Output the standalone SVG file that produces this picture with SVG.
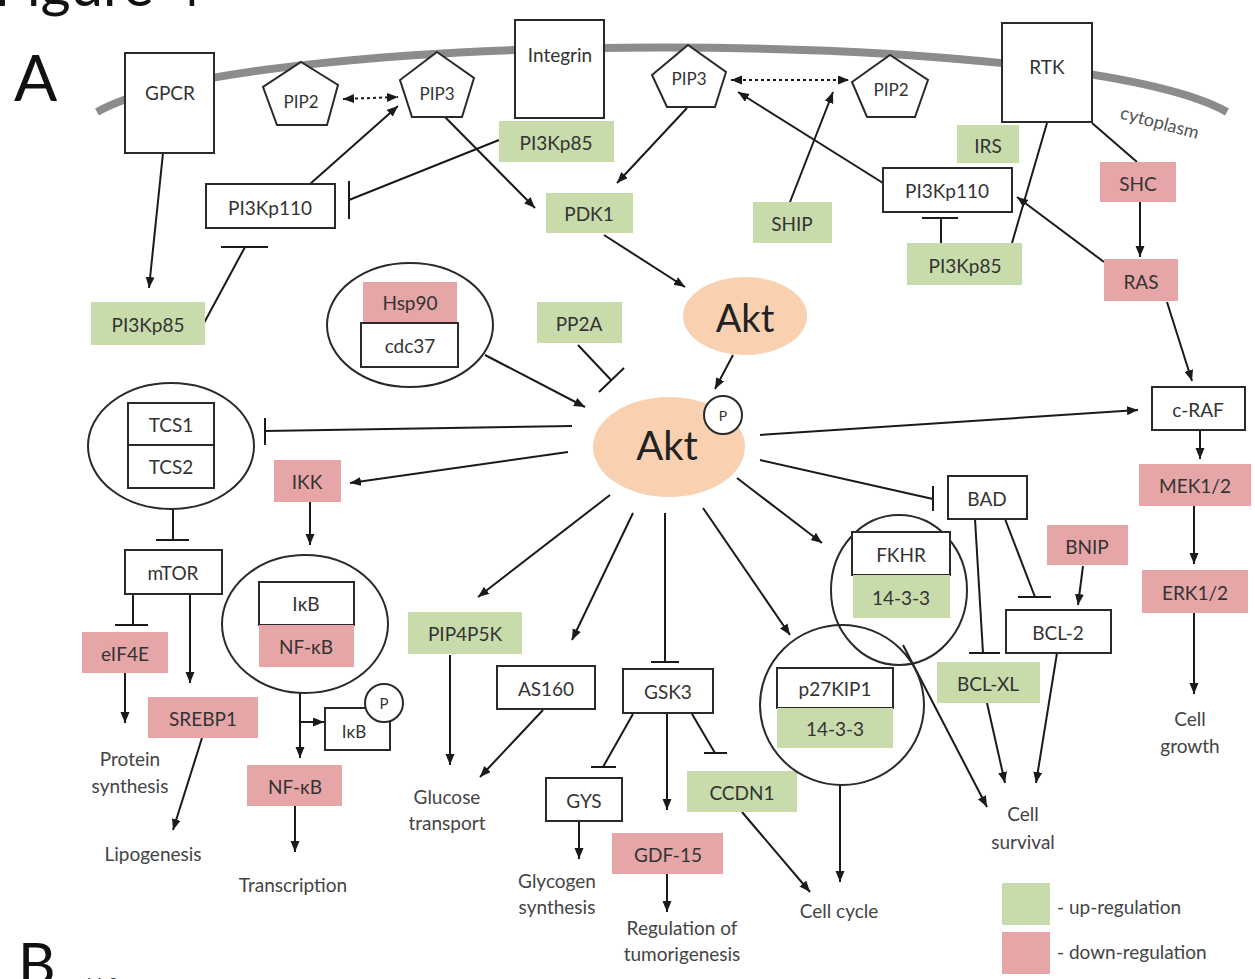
<svg xmlns="http://www.w3.org/2000/svg" width="1255" height="979" viewBox="0 0 1255 979">
<defs>
<marker id="ah" markerUnits="userSpaceOnUse" markerWidth="12" markerHeight="10" refX="11" refY="4.5" orient="auto"><path d="M0,0 L11,4.5 L0,9 z" fill="#1a1a1a"/></marker>
<marker id="ahs" markerUnits="userSpaceOnUse" markerWidth="12" markerHeight="10" refX="11" refY="4.5" orient="auto-start-reverse"><path d="M0,0 L11,4.5 L0,9 z" fill="#1a1a1a"/></marker>
<style>
text{font-family:Lato,"Liberation Sans",sans-serif;fill:#333;text-anchor:middle;dominant-baseline:central}
.lbl{font-size:19px}
.box{fill:#fff;stroke:#2a2a2a;stroke-width:2}
.cx{fill:none;stroke:#2a2a2a;stroke-width:2}
.up{fill:#c8dbab}
.dn{fill:#e6a6a8}
.akt{fill:#f9d1b0}
.c line,.c path{stroke:#1a1a1a;stroke-width:2;fill:none}
.a{marker-end:url(#ah)}
.d{stroke-dasharray:3 3;marker-end:url(#ahs);marker-start:url(#ahs)}
.out{font-size:19px;fill:#444}
</style>
</defs>
<rect width="1255" height="979" fill="#fff"/>
<text x="-6" y="-17" style="font-size:58px;fill:#111;text-anchor:start">Figure 4</text>
<text x="14" y="76" style="font-size:64px;fill:#111;text-anchor:start">A</text>
<text x="18" y="962" style="font-size:58px;fill:#111;text-anchor:start">B</text>
<text x="84" y="982" style="font-size:16px;fill:#333;text-anchor:start">14-3</text>
<g id="membrane"><path d="M97,112 C250,26 1074,26 1227,112" fill="none" stroke="#8c8c8c" stroke-width="8"/>
<text x="1160" y="122" transform="rotate(15 1160 122)" style="font-size:18px;fill:#555">cytoplasm</text></g>
<g id="connectors" class="c">
<line class="a" x1="163" y1="153" x2="149" y2="288"/>
<line x1="204" y1="323" x2="245" y2="247"/><line x1="221" y1="247" x2="268" y2="247"/>
<line class="a" x1="310" y1="184" x2="398" y2="106"/>
<line class="d" x1="343" y1="99" x2="398" y2="97"/>
<line x1="499" y1="140" x2="349" y2="200"/><line x1="349" y1="181" x2="349" y2="219"/>
<line class="a" x1="443" y1="115" x2="535" y2="208"/>
<line class="a" x1="687" y1="108" x2="617" y2="183"/>
<line class="d" x1="731" y1="80" x2="849" y2="80"/>
<line class="a" x1="790" y1="202" x2="833" y2="92"/>
<line class="a" x1="883" y1="183" x2="738" y2="92"/>
<line class="a" x1="1104" y1="262" x2="1017" y2="197"/>
<line x1="1047" y1="123" x2="1012" y2="243"/>
<line x1="1092" y1="123" x2="1137" y2="162"/>
<line class="a" x1="1140" y1="202" x2="1140" y2="257"/>
<line x1="941" y1="243" x2="941" y2="218"/><line x1="922" y1="218" x2="958" y2="218"/>
<line class="a" x1="604" y1="235" x2="685" y2="287"/>
<line class="a" x1="733" y1="355" x2="715" y2="389"/>
<line class="a" x1="485" y1="355" x2="585" y2="407"/>
<line x1="578" y1="345" x2="611" y2="380"/><line x1="599" y1="392" x2="624" y2="368"/>
<line x1="572" y1="426" x2="265" y2="431"/><line x1="265" y1="418" x2="265" y2="445"/>
<line x1="173" y1="508" x2="173" y2="540"/><line x1="156" y1="540" x2="189" y2="540"/>
<line class="a" x1="568" y1="452" x2="350" y2="483"/>
<line class="a" x1="310" y1="502" x2="310" y2="545"/>
<line x1="133" y1="594" x2="133" y2="625"/><line x1="115" y1="625" x2="148" y2="625"/>
<line class="a" x1="190" y1="594" x2="190" y2="683"/>
<line class="a" x1="125" y1="673" x2="125" y2="723"/>
<line class="a" x1="202" y1="738" x2="173" y2="830"/>
<line class="a" x1="300" y1="693" x2="300" y2="758"/>
<line class="a" x1="300" y1="722" x2="324" y2="722"/>
<line class="a" x1="295" y1="806" x2="295" y2="852"/>
<line class="a" x1="610" y1="495" x2="478" y2="597"/>
<line class="a" x1="450" y1="655" x2="450" y2="765"/>
<line class="a" x1="633" y1="513" x2="572" y2="640"/>
<line class="a" x1="543" y1="710" x2="480" y2="777"/>
<line x1="665" y1="513" x2="665" y2="662"/><line x1="651" y1="662" x2="679" y2="662"/>
<line x1="633" y1="714" x2="603" y2="767"/><line x1="591" y1="767" x2="616" y2="767"/>
<line class="a" x1="667" y1="713" x2="667" y2="810"/>
<line x1="692" y1="714" x2="715" y2="753"/><line x1="704" y1="753" x2="727" y2="753"/>
<line class="a" x1="579" y1="821" x2="579" y2="859"/>
<line class="a" x1="667" y1="874" x2="667" y2="912"/>
<line class="a" x1="742" y1="812" x2="810" y2="892"/>
<line class="a" x1="703" y1="508" x2="790" y2="635"/>
<line class="a" x1="840" y1="785" x2="840" y2="882"/>
<line class="a" x1="737" y1="478" x2="822" y2="543"/>
<line class="a" x1="903" y1="645" x2="987" y2="807"/>
<line x1="760" y1="460" x2="933" y2="499"/><line x1="933" y1="486" x2="933" y2="511"/>
<line x1="975" y1="519" x2="983" y2="653"/><line x1="969" y1="653" x2="1000" y2="653"/>
<line x1="1005" y1="519" x2="1035" y2="597"/><line x1="1018" y1="597" x2="1051" y2="597"/>
<line class="a" x1="1083" y1="566" x2="1078" y2="605"/>
<line class="a" x1="987" y1="703" x2="1005" y2="783"/>
<line class="a" x1="1057" y1="653" x2="1036" y2="783"/>
<line class="a" x1="760" y1="435" x2="1138" y2="410"/>
<line class="a" x1="1167" y1="302" x2="1192" y2="381"/>
<line class="a" x1="1200" y1="430" x2="1200" y2="459"/>
<line class="a" x1="1194" y1="506" x2="1194" y2="564"/>
<line class="a" x1="1194" y1="613" x2="1194" y2="694"/>
</g>
<g id="gpcr"><rect class="box" x="125" y="53" width="89" height="100"/><text class="lbl" x="170" y="92">GPCR</text></g>
<g id="pip2-left"><polygon class="box" points="301,62 338,85 327,125 277,125 263,87"/><text class="lbl" x="301" y="101" style="font-size:17px">PIP2</text></g>
<g id="pip3-left"><polygon class="box" points="437,52 474,78 462,117 412,117 400,80"/><text class="lbl" x="437" y="93" style="font-size:17px">PIP3</text></g>
<g id="integrin"><rect class="box" x="515" y="20" width="89" height="98"/><text class="lbl" x="560" y="54">Integrin</text></g>
<g id="pi3kp85-top"><rect class="up" x="499" y="121" width="115" height="41"/><text class="lbl" x="556" y="142">PI3Kp85</text></g>
<g id="pip3-right"><polygon class="box" points="688,45 726,72 715,107 667,107 652,75"/><text class="lbl" x="689" y="78" style="font-size:17px">PIP3</text></g>
<g id="pip2-right"><polygon class="box" points="890,55 928,80 915,117 867,117 852,82"/><text class="lbl" x="891" y="89" style="font-size:17px">PIP2</text></g>
<g id="rtk"><rect class="box" x="1002" y="23" width="90" height="99"/><text class="lbl" x="1047" y="66">RTK</text></g>
<g id="irs"><rect class="up" x="957" y="125" width="62" height="38"/><text class="lbl" x="988" y="145">IRS</text></g>
<g id="pi3kp110-right"><rect class="box" x="883" y="168" width="129" height="44"/><text class="lbl" x="947" y="190">PI3Kp110</text></g>
<g id="pi3kp85-right"><rect class="up" x="907" y="243" width="115" height="42"/><text class="lbl" x="965" y="265">PI3Kp85</text></g>
<g id="shc"><rect class="dn" x="1100" y="162" width="76" height="40"/><text class="lbl" x="1138" y="183">SHC</text></g>
<g id="ras"><rect class="dn" x="1104" y="259" width="74" height="42"/><text class="lbl" x="1141" y="281">RAS</text></g>
<g id="pi3kp110-left"><rect class="box" x="206" y="184" width="129" height="44"/><text class="lbl" x="270" y="207">PI3Kp110</text></g>
<g id="pi3kp85-left"><rect class="up" x="91" y="302" width="114" height="43"/><text class="lbl" x="148" y="324">PI3Kp85</text></g>
<g id="pdk1"><rect class="up" x="546" y="193" width="87" height="40"/><text class="lbl" x="589" y="213">PDK1</text></g>
<g id="ship"><rect class="up" x="753" y="202" width="79" height="41"/><text class="lbl" x="792" y="223">SHIP</text></g>
<g id="akt-top"><ellipse class="akt" cx="745" cy="316" rx="62" ry="39"/><text x="745" y="317" style="font-size:38px;fill:#222">Akt</text></g>
<g id="akt"><ellipse class="akt" cx="669" cy="447" rx="76" ry="50"/><text x="667" y="445" style="font-size:40px;fill:#222">Akt</text><circle class="box" cx="723" cy="415" r="19"/><text x="723" y="415" style="font-size:14px">P</text></g>
<g id="hsp90-complex"><ellipse class="cx" cx="410" cy="325" rx="83" ry="62"/><rect class="dn" x="363" y="282" width="94" height="41"/><text class="lbl" x="410" y="302">Hsp90</text><rect class="box" x="361" y="323" width="97" height="44"/><text class="lbl" x="410" y="345">cdc37</text></g>
<g id="pp2a"><rect class="up" x="537" y="302" width="85" height="41"/><text class="lbl" x="579" y="323">PP2A</text></g>
<g id="tcs-complex"><ellipse class="cx" cx="171" cy="446" rx="83" ry="63"/><rect class="box" x="128" y="403" width="86" height="42"/><text class="lbl" x="171" y="424">TCS1</text><rect class="box" x="128" y="445" width="86" height="43"/><text class="lbl" x="171" y="466">TCS2</text></g>
<g id="mtor"><rect class="box" x="125" y="550" width="97" height="44"/><text class="lbl" x="173" y="572">mTOR</text></g>
<g id="ikk"><rect class="dn" x="274" y="460" width="67" height="42"/><text class="lbl" x="307" y="481">IKK</text></g>
<g id="ikb-complex"><ellipse class="cx" cx="305" cy="624" rx="83" ry="69"/><rect class="box" x="259" y="582" width="95" height="43"/><text class="lbl" x="306" y="603">IκB</text><rect class="dn" x="259" y="625" width="95" height="42"/><text class="lbl" x="306" y="646">NF-κB</text></g>
<g id="ikb-p"><rect class="box" x="325" y="708" width="65" height="42"/><text class="lbl" x="354" y="731" style="font-size:17px">IκB</text><circle class="box" cx="384" cy="703" r="19"/><text x="384" y="703" style="font-size:15px">P</text></g>
<g id="nfkb"><rect class="dn" x="247" y="765" width="95" height="41"/><text class="lbl" x="295" y="786">NF-κB</text></g>
<g id="eif4e"><rect class="dn" x="82" y="632" width="86" height="41"/><text class="lbl" x="125" y="653">eIF4E</text></g>
<g id="srebp1"><rect class="dn" x="148" y="697" width="110" height="41"/><text class="lbl" x="203" y="718">SREBP1</text></g>
<g id="pip4p5k"><rect class="up" x="408" y="612" width="114" height="42"/><text class="lbl" x="465" y="633">PIP4P5K</text></g>
<g id="as160"><rect class="box" x="497" y="666" width="98" height="43"/><text class="lbl" x="546" y="688">AS160</text></g>
<g id="gsk3"><rect class="box" x="623" y="669" width="90" height="44"/><text class="lbl" x="668" y="691">GSK3</text></g>
<g id="gys"><rect class="box" x="546" y="778" width="76" height="43"/><text class="lbl" x="584" y="800">GYS</text></g>
<g id="gdf15"><rect class="dn" x="612" y="833" width="111" height="41"/><text class="lbl" x="668" y="854">GDF-15</text></g>
<g id="ccdn1"><rect class="up" x="687" y="771" width="110" height="41"/><text class="lbl" x="742" y="792">CCDN1</text></g>
<g id="p27-complex"><ellipse class="cx" cx="842" cy="705" rx="82" ry="80"/><rect class="box" x="777" y="668" width="116" height="40"/><text class="lbl" x="835" y="688">p27KIP1</text><rect class="up" x="777" y="708" width="116" height="40"/><text class="lbl" x="835" y="728">14-3-3</text></g>
<g id="fkhr-complex"><ellipse class="cx" cx="899" cy="590" rx="68" ry="75"/><rect class="box" x="852" y="532" width="98" height="43"/><text class="lbl" x="901" y="554">FKHR</text><rect class="up" x="853" y="575" width="97" height="43"/><text class="lbl" x="901" y="597">14-3-3</text></g>
<g id="bad"><rect class="box" x="948" y="476" width="79" height="43"/><text class="lbl" x="987" y="498">BAD</text></g>
<g id="bnip"><rect class="dn" x="1047" y="525" width="81" height="40"/><text class="lbl" x="1087" y="546">BNIP</text></g>
<g id="bcl2"><rect class="box" x="1006" y="610" width="105" height="43"/><text class="lbl" x="1058" y="632">BCL-2</text></g>
<g id="bclxl"><rect class="up" x="937" y="662" width="103" height="41"/><text class="lbl" x="988" y="683">BCL-XL</text></g>
<g id="craf"><rect class="box" x="1152" y="387" width="93" height="43"/><text class="lbl" x="1198" y="409">c-RAF</text></g>
<g id="mek"><rect class="dn" x="1139" y="464" width="112" height="42"/><text class="lbl" x="1195" y="485">MEK1/2</text></g>
<g id="erk"><rect class="dn" x="1142" y="570" width="106" height="43"/><text class="lbl" x="1195" y="592">ERK1/2</text></g>
<g id="outcomes">
<text class="out" x="130" y="758">Protein</text><text class="out" x="130" y="785">synthesis</text>
<text class="out" x="153" y="853">Lipogenesis</text>
<text class="out" x="293" y="884">Transcription</text>
<text class="out" x="447" y="796">Glucose</text><text class="out" x="447" y="822">transport</text>
<text class="out" x="557" y="880">Glycogen</text><text class="out" x="557" y="906">synthesis</text>
<text class="out" x="682" y="927">Regulation of</text><text class="out" x="682" y="953">tumorigenesis</text>
<text class="out" x="839" y="910">Cell cycle</text>
<text class="out" x="1023" y="813">Cell</text><text class="out" x="1023" y="841">survival</text>
<text class="out" x="1190" y="718">Cell</text><text class="out" x="1190" y="745">growth</text>
</g>
<g id="legend"><rect class="up" x="1002" y="883" width="48" height="42"/><rect class="dn" x="1002" y="932" width="48" height="42"/>
<text class="out" x="1057" y="906" style="text-anchor:start">- up-regulation</text>
<text class="out" x="1057" y="951" style="text-anchor:start">- down-regulation</text></g>
</svg>
